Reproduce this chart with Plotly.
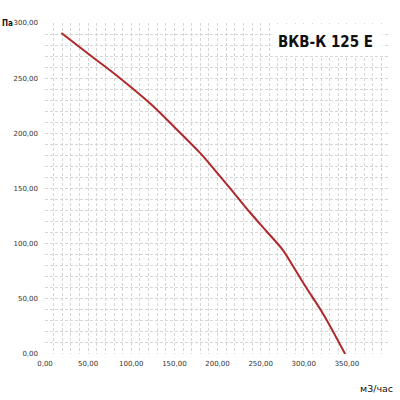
import plotly.graph_objects as go

# ---------- Data ----------
flow = [19, 52, 87, 122, 156, 180, 203, 219, 238, 257, 276, 288, 303, 322, 348]
pressure = [291, 271, 250, 227, 201, 182, 161, 146, 128, 111, 94, 79, 60, 37, 0]

x_ticks = [0, 50, 100, 150, 200, 250, 300, 350, 400]
y_ticks = [0, 50, 100, 150, 200, 250, 300]

def fmt(v):
    return f"{v:.2f}".replace(".", ",")

fig = go.Figure()
fig.add_trace(go.Scatter(
    x=flow, y=pressure, mode="lines",
    line=dict(color="#b0282a", width=2, shape="spline", smoothing=1),
    showlegend=False, hoverinfo="skip"
))

grid = dict(showgrid=True, gridcolor="#d6d6d6", griddash="3px,2px", gridwidth=1,
            zeroline=False, showline=False, ticks="", automargin=False,
            tickfont=dict(family="DejaVu Sans", size=7, color="#333"))
minor = dict(dtick=10, showgrid=True, gridcolor="#d6d6d6", griddash="3px,2px")

fig.update_xaxes(range=[0, 400], tickvals=x_ticks, ticktext=[fmt(v) for v in x_ticks],
                 minor=minor, ticklabelstandoff=4, **grid)
fig.update_yaxes(range=[0, 300], tickvals=y_ticks, ticktext=[fmt(v) for v in y_ticks],
                 minor=minor, ticklabelstandoff=6, **grid)

fig.update_layout(
    width=400, height=400,
    margin=dict(l=45, r=10, t=23, b=46),
    plot_bgcolor="white", paper_bgcolor="white",
    shapes=[dict(type="rect", xref="x", yref="y", x0=262, x1=391, y0=270, y1=299,
                 fillcolor="white", line=dict(width=0), layer="above")],
    annotations=[
        dict(text="<b>ВКВ-К 125 Е</b>", xref="paper", yref="paper", x=0.957, y=0.943,
             xanchor="right", yanchor="middle", showarrow=False,
             font=dict(family="DejaVu Sans Condensed", size=15, color="#111")),
        dict(text="<b>Па</b>", xref="paper", yref="paper", x=-0.1304, y=1.0,
             xanchor="left", yanchor="middle", showarrow=False,
             font=dict(family="DejaVu Sans Condensed", size=8, color="#111")),
        dict(text="м3/час", xref="paper", yref="paper", x=1.014, y=-0.103,
             xanchor="right", yanchor="middle", showarrow=False,
             font=dict(family="DejaVu Sans", size=9.5, color="#111")),
    ],
)

fig.write_html("out.html", config={"displayModeBar": False},
               post_script="document.body.style.margin='0';")
